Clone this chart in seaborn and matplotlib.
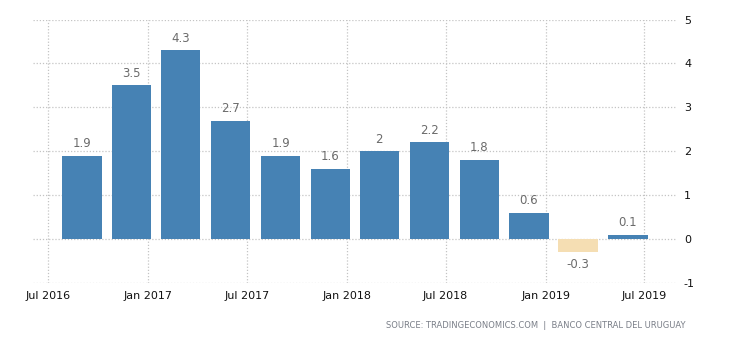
import matplotlib
matplotlib.use("Agg")
import matplotlib.pyplot as plt
import matplotlib.dates as mdates
import seaborn as sns
import pandas as pd
import numpy as np

# Quarterly GDP growth, Uruguay (year-on-year, %)
quarters = ["2016Q3", "2016Q4", "2017Q1", "2017Q2", "2017Q3", "2017Q4",
            "2018Q1", "2018Q2", "2018Q3", "2018Q4", "2019Q1", "2019Q2"]
growth = [1.9, 3.5, 4.3, 2.7, 1.9, 1.6, 2.0, 2.2, 1.8, 0.6, -0.3, 0.1]
tick_dates = ["2016-07-01", "2017-01-01", "2017-07-01", "2018-01-01",
              "2018-07-01", "2019-01-01", "2019-07-01"]
tick_labels = ["Jul 2016", "Jan 2017", "Jul 2017", "Jan 2018",
               "Jul 2018", "Jan 2019", "Jul 2019"]
y_ticks = [-1, 0, 1, 2, 3, 4, 5]

POS_COLOR = "#4682b4"
NEG_COLOR = "#f5deb3"

# each bar sits on the first day of the quarter's last month
periods = pd.PeriodIndex(quarters, freq="Q")
bar_dates = (periods.end_time.normalize() - pd.offsets.MonthBegin(1))
df = pd.DataFrame({
    "x": mdates.date2num(bar_dates.to_pydatetime()),
    "growth": growth,
    "sign": ["neg" if v < 0 else "pos" for v in growth],
})

sns.set_style("white")
plt.rcParams["font.family"] = ["DejaVu Sans"]

fig = plt.figure(figsize=(7.3, 3.4), dpi=100)
ax = fig.add_axes([33 / 730, 1 - 283 / 340, (677 - 33) / 730, (283 - 19.5) / 340])

sns.barplot(data=df, x="x", y="growth", hue="sign", native_scale=True,
            palette={"pos": POS_COLOR, "neg": NEG_COLOR}, dodge=False,
            legend=False, saturation=1, width=0.8, ax=ax, errorbar=None,
            linewidth=0, edgecolor="none")

for cont in ax.containers:
    ax.bar_label(cont, fmt=lambda v: f"{v:g}", padding=4, fontsize=8.5,
                 color="#6b6b6b")

ax.set_xlim(mdates.date2num(pd.Timestamp("2016-06-03")),
            mdates.date2num(pd.Timestamp("2019-08-30")))
ax.set_ylim(-1, 5)
ax.set_xticks(mdates.date2num(pd.to_datetime(tick_dates).to_pydatetime()))
ax.set_xticklabels(tick_labels)
ax.set_yticks(y_ticks)
ax.set_yticklabels([str(v) for v in y_ticks])
ax.yaxis.tick_right()
ax.tick_params(axis="both", length=0, labelsize=8, colors="#111111")
ax.tick_params(axis="x", pad=6)
ax.tick_params(axis="y", pad=5)
ax.set_xlabel("")
ax.set_ylabel("")

ax.grid(True, axis="both", color="#c4c4c4", linestyle=(0, (1, 1.5)), linewidth=0.9)
ax.set_axisbelow(True)
for s in ax.spines.values():
    s.set_visible(False)

fig.text(686 / 730, 1 - 325 / 340,
         "SOURCE: TRADINGECONOMICS.COM  |  BANCO CENTRAL DEL URUGUAY",
         ha="right", va="center", fontsize=6, color="#7a7f88")

fig.savefig("out.png", dpi=100)
